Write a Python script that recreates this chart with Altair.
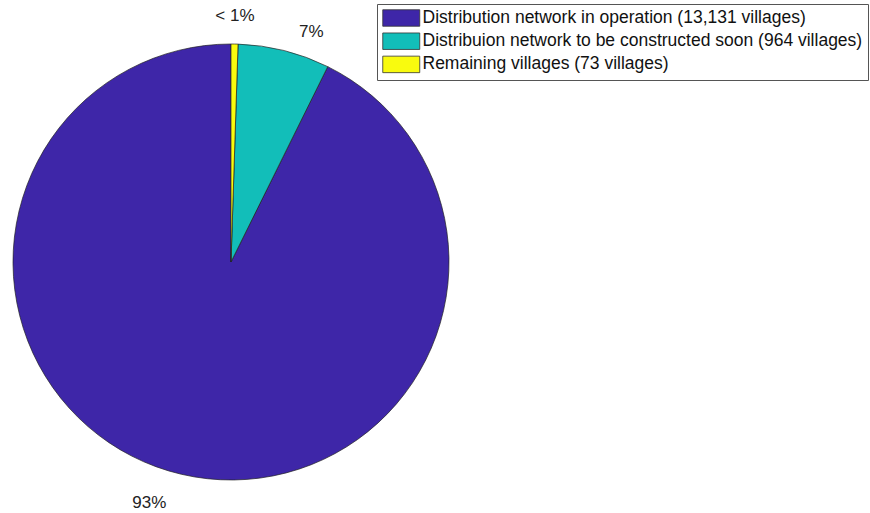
import altair as alt
import pandas as pd

categories = [
    "Distribution network in operation (13,131 villages)",
    "Distribuion network to be constructed soon (964 villages)",
    "Remaining villages (73 villages)",
]
villages = [13131, 964, 73]
pct_labels = ["93%", "7%", "< 1%"]
draw_order = [2, 1, 0]
colors = ["#3E26A8", "#12BEB9", "#F9FB0E"]

df = pd.DataFrame({
    "category": categories,
    "villages": villages,
    "label": pct_labels,
    "order": draw_order,
})

FONT = "Liberation Sans"
CX, CY, R = 231, 262, 218

color = alt.Color(
    "category:N",
    scale=alt.Scale(domain=categories, range=colors),
    legend=alt.Legend(
        title=None,
        orient="none",
        legendX=377,
        legendY=4,
        padding=5,
        strokeColor="#555555",
        fillColor="white",
        symbolType="M-1,-1H3.485V1H-1Z",
        symbolSize=272,
        symbolStrokeColor="#333333",
        symbolStrokeWidth=0.8,
        symbolOpacity=1,
        labelFont=FONT,
        labelFontSize=17.5,
        labelColor="#111111",
        labelOffset=22.5,
        labelLimit=0,
        rowPadding=3.2,
    ),
)

pie = alt.Chart(df).mark_arc(
    outerRadius=R, stroke="#222222", strokeWidth=0.7
).encode(
    theta=alt.Theta("villages:Q", stack=True),
    color=color,
    order=alt.Order("order:Q"),
    x=alt.value(CX),
    y=alt.value(CY),
)

base = alt.Chart(df).transform_joinaggregate(
    total="sum(villages)"
).transform_window(
    cum="sum(villages)", sort=[alt.SortField("order")], frame=[None, 0]
).transform_calculate(
    mid="(datum.cum - datum.villages / 2) / datum.total"
)

def label_layer(lbl, align, dx, dy):
    return base.transform_filter(alt.datum.label == lbl).mark_text(
        radius=1.1 * R, align=align, dx=dx, dy=dy,
        font=FONT, fontSize=17, color="#222222", baseline="alphabetic",
    ).encode(
        theta=alt.Theta("mid:Q", scale=alt.Scale(domain=[0, 1])),
        text="label:N",
        x=alt.value(CX),
        y=alt.value(CY),
    )

labels = alt.layer(
    label_layer("< 1%", "center", 0, -1),
    label_layer("7%", "left", 9.5, 8),
    label_layer("93%", "right", -10, 13),
)

chart = alt.layer(pie, labels).resolve_scale(theta="independent").properties(
    width=870, height=513, padding=0, autosize=alt.AutoSizeParams(type="none"),
    background="white",
).configure_view(stroke=None)

chart.save("out.html", embed_options={"renderer": "svg", "actions": False})
